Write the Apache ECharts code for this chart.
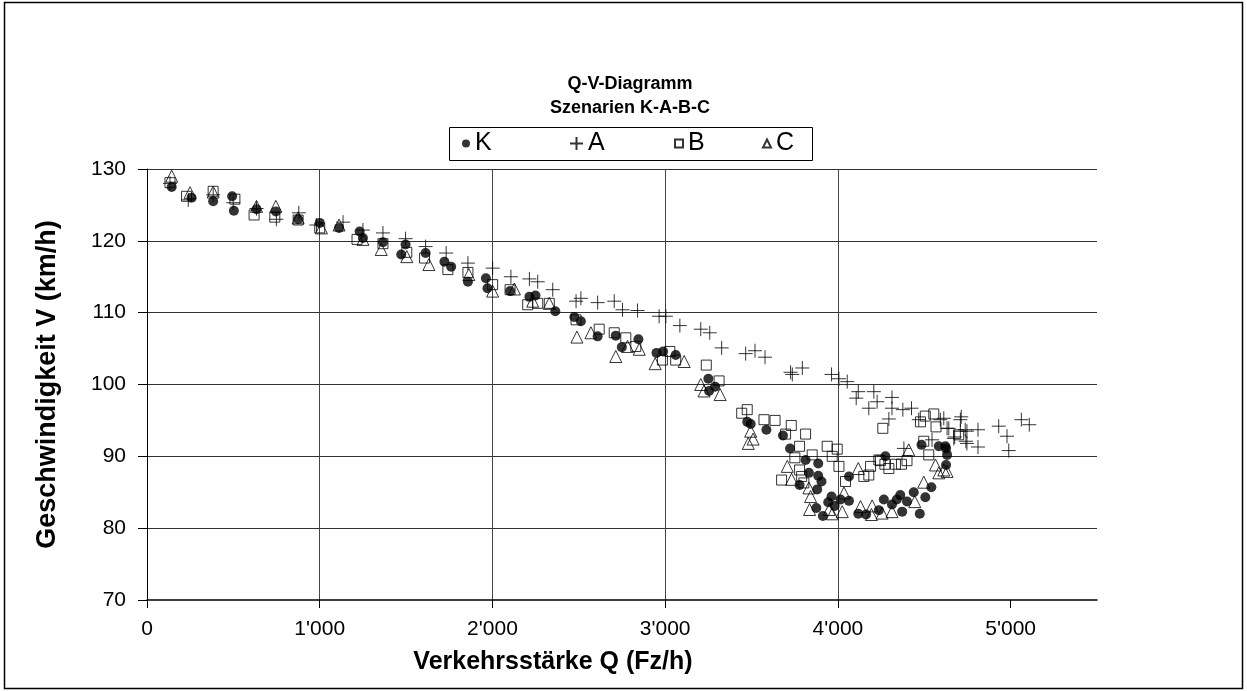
<!DOCTYPE html>
<html>
<head>
<meta charset="utf-8">
<script src="https://cdn.jsdelivr.net/npm/echarts@6/dist/echarts.min.js"></script>
<style>
html,body{margin:0;padding:0;background:#fff;}
#chart{width:1247px;height:691px;}
</style>
</head>
<body>
<div id="chart"></div>
<script>
// ---- Data (Q in Fz/h, V in km/h) ----
const seriesNames = ['K', 'A', 'B', 'C'];
const xTicks = [0, 1000, 2000, 3000, 4000, 5000];
const yTicks = [70, 80, 90, 100, 110, 120, 130];

const dataK = [[143,127.5],[258,126.0],[383,125.5],[493,126.2],[503,124.2],[634,124.4],[746,124.1],[875,123.0],[1000,122.5],[1112,121.8],[1231,121.3],[1250,120.4],[1366,119.8],[1497,119.5],[1472,118.1],[1613,118.3],[1722,117.1],[1761,116.4],[1858,114.3],[1962,114.8],[1971,113.4],[2102,113.0],[2214,112.2],[2249,112.4],[2364,110.2],[2474,109.4],[2512,108.8],[2609,106.7],[2714,106.8],[2749,105.2],[2845,106.3],[2950,104.4],[2988,104.6],[3061,104.1],[3250,100.8],[3254,99.1],[3289,99.7],[3475,94.8],[3495,94.5],[3586,93.7],[3682,92.9],[3723,91.1],[3813,89.5],[3886,89.0],[3832,87.7],[3886,87.3],[3905,86.5],[3778,86.0],[3880,85.4],[3963,84.4],[3944,83.6],[4015,84.0],[4064,83.8],[3875,82.8],[3913,81.7],[3981,83.1],[4064,87.2],[4275,90.0],[4484,91.6],[4584,91.4],[4622,91.4],[4632,90.2],[4626,88.8],[4541,85.7],[4506,84.3],[4439,85.0],[4474,82.0],[4372,82.3],[4361,84.6],[4400,83.7],[4313,83.3],[4266,84.0],[4237,82.5],[4163,81.9],[4118,82.0],[4341,84.0],[4626,91.1]];

const dataA = [[133,128.0],[239,125.7],[383,126.4],[499,125.3],[634,124.5],[749,123.0],[879,123.9],[981,122.2],[1135,122.6],[1250,121.5],[1366,121.1],[1497,120.3],[1613,119.2],[1732,118.3],[1858,116.9],[2001,116.2],[2107,115.0],[2214,114.7],[2262,114.3],[2349,113.2],[2484,111.6],[2512,112.0],[2609,111.4],[2705,111.6],[2753,110.4],[2840,110.3],[2965,109.5],[3004,109.5],[3085,108.2],[3206,107.7],[3258,107.2],[3327,105.1],[3466,104.3],[3520,104.7],[3578,103.8],[3726,101.7],[3736,101.4],[3794,102.3],[3963,101.4],[4006,100.8],[4054,100.4],[4118,99.0],[4106,98.1],[4208,99.0],[4227,97.6],[4179,96.7],[4313,98.2],[4313,96.7],[4295,95.2],[4376,96.5],[4426,96.7],[4468,95.1],[4593,95.1],[4632,93.9],[4709,95.1],[4709,93.5],[4737,93.7],[4671,92.5],[4747,91.8],[4545,92.3],[4382,91.1],[4613,95.3],[4714,95.5],[4642,93.9],[4747,93.5],[4811,93.7],[4676,92.7],[4741,92.1],[4811,91.3],[4931,94.2],[4979,92.8],[4989,90.8],[5062,95.1],[5108,94.4]];

const dataB = [[133,128.1],[229,126.2],[383,126.9],[509,125.8],[620,123.6],[740,123.3],[875,122.9],[1000,121.8],[1216,120.2],[1366,119.6],[1504,118.4],[1607,117.6],[1742,116.0],[1858,115.6],[2001,113.9],[2102,113.2],[2204,111.1],[2262,111.3],[2329,111.3],[2484,109.0],[2618,107.7],[2705,107.2],[2772,106.5],[2830,105.3],[2984,103.4],[3027,104.6],[3061,103.4],[3238,102.7],[3312,100.5],[3443,96.0],[3475,96.5],[3572,95.1],[3636,95.0],[3730,94.3],[3697,93.1],[3813,93.1],[3778,91.4],[3938,91.4],[3996,91.0],[3751,89.8],[3851,90.2],[3967,90.0],[3778,88.1],[4006,88.6],[4189,88.6],[4237,89.5],[3674,86.7],[3790,87.2],[3803,86.3],[4044,86.5],[4150,87.2],[4179,87.4],[4260,93.9],[4478,94.8],[4506,95.6],[4555,95.9],[4568,94.1],[4699,93.0],[4497,92.1],[4526,90.2],[4246,89.4],[4272,88.9],[4295,88.3],[4333,88.9],[4368,88.9],[4400,89.4]];

const dataC = [[143,129.0],[249,126.7],[383,126.8],[634,124.8],[746,124.8],[875,123.2],[1010,121.8],[1112,122.2],[1250,120.2],[1356,118.8],[1504,117.8],[1632,116.7],[1863,115.3],[2001,113.0],[2127,113.3],[2233,111.6],[2329,111.3],[2489,106.6],[2570,107.2],[2714,103.9],[2782,105.3],[2850,104.9],[2942,102.9],[3110,103.2],[3206,100.0],[3225,99.1],[3318,98.6],[3495,93.5],[3509,92.4],[3481,91.8],[3707,88.6],[3732,86.8],[3832,85.6],[3842,84.4],[3836,82.6],[3950,82.6],[3967,82.0],[4025,82.3],[4035,84.9],[4118,88.3],[4410,90.9],[4565,88.8],[4584,87.7],[4632,87.9],[4497,86.4],[4445,83.7],[4313,82.3],[4256,82.1],[4194,81.9],[4198,83.1],[4131,83.0],[4613,88.1]];

// ---- Chart ----
const FONT = '"Liberation Sans", Arial, Helvetica, sans-serif';
const plusPath = 'path://M0,6H12M6,0V12';
const fmt = v => String(v).replace(/\B(?=(\d{3})+(?!\d))/g, "'");

const chart = echarts.init(document.getElementById('chart'), null, {renderer: 'canvas'});

const hollow = {color: 'rgba(0,0,0,0)', borderColor: '#000', borderWidth: 1};
function mk(name, data, symbol, size, style) {
  return {
    name: name, type: 'scatter', data: data, symbol: symbol, symbolSize: size,
    itemStyle: style, emphasis: {disabled: true}, animation: false, z: 3
  };
}
function lg(name, left, w, h) {
  return {
    data: [name], left: left, top: 131, itemWidth: w, itemHeight: h, padding: 0,
    selectedMode: false, textStyle: {fontFamily: FONT, fontSize: 25, color: '#000'}
  };
}

chart.setOption({
  backgroundColor: '#fff',
  animation: false,
  textStyle: {fontFamily: FONT},
  graphic: [
    {type: 'rect', shape: {x: 4.5, y: 2.5, width: 1238, height: 686}, style: {fill: 'none', stroke: '#000', lineWidth: 1.5}, silent: true},
    {type: 'rect', shape: {x: 449.5, y: 127.5, width: 363, height: 33}, style: {fill: 'none', stroke: '#000', lineWidth: 1}, silent: true},
    {type: 'text', x: 630, y: 84, style: {text: 'Q-V-Diagramm', font: 'bold 18px ' + FONT, fill: '#000', textAlign: 'center', textVerticalAlign: 'middle'}, silent: true},
    {type: 'text', x: 630, y: 108, style: {text: 'Szenarien K-A-B-C', font: 'bold 18px ' + FONT, fill: '#000', textAlign: 'center', textVerticalAlign: 'middle'}, silent: true}
  ],
  legend: [lg('K', 462, 8, 8), lg('A', 569, 13, 13), lg('B', 674, 8, 8), lg('C', 762, 8, 8)],
  grid: {left: 147, right: 150, top: 169, bottom: 91, containLabel: false},
  xAxis: {
    type: 'value', min: 0, max: 5500, interval: 1000,
    name: 'Verkehrsstärke Q (Fz/h)', nameLocation: 'middle', nameGap: 50,
    nameTextStyle: {fontFamily: FONT, fontSize: 25, fontWeight: 'bold', color: '#000', padding: [0, 138, 0, 0]},
    axisLine: {show: true, onZero: false, lineStyle: {color: '#000', width: 1.5}},
    axisTick: {show: true, length: 8, inside: false, customValues: xTicks, lineStyle: {color: '#000'}},
    axisLabel: {customValues: xTicks, margin: 19, fontFamily: FONT, fontSize: 21, color: '#000', formatter: fmt},
    splitLine: {show: true, showMinLine: false, showMaxLine: false, lineStyle: {color: '#444', width: 1}}
  },
  yAxis: {
    type: 'value', min: 70, max: 130, interval: 10,
    name: 'Geschwindigkeit V (km/h)', nameLocation: 'middle', nameGap: 86, nameRotate: 90,
    nameTextStyle: {fontFamily: FONT, fontSize: 27, fontWeight: 'bold', color: '#000'},
    axisLine: {show: true, onZero: false, lineStyle: {color: '#000', width: 1}},
    axisTick: {show: true, length: 9, inside: false, lineStyle: {color: '#000'}},
    axisLabel: {margin: 21, fontFamily: FONT, fontSize: 21, color: '#000', formatter: v => String(v)},
    splitLine: {show: true, showMinLine: false, lineStyle: {color: '#333', width: 1}}
  },
  series: [
    mk(seriesNames[0], dataK, 'circle', 10, {color: '#000', borderColor: '#000', borderWidth: 0}),
    mk(seriesNames[1], dataA, plusPath, 14, hollow),
    mk(seriesNames[2], dataB, 'rect', 10, hollow),
    mk(seriesNames[3], dataC, 'triangle', 12, hollow)
  ]
});
</script>
</body>
</html>
